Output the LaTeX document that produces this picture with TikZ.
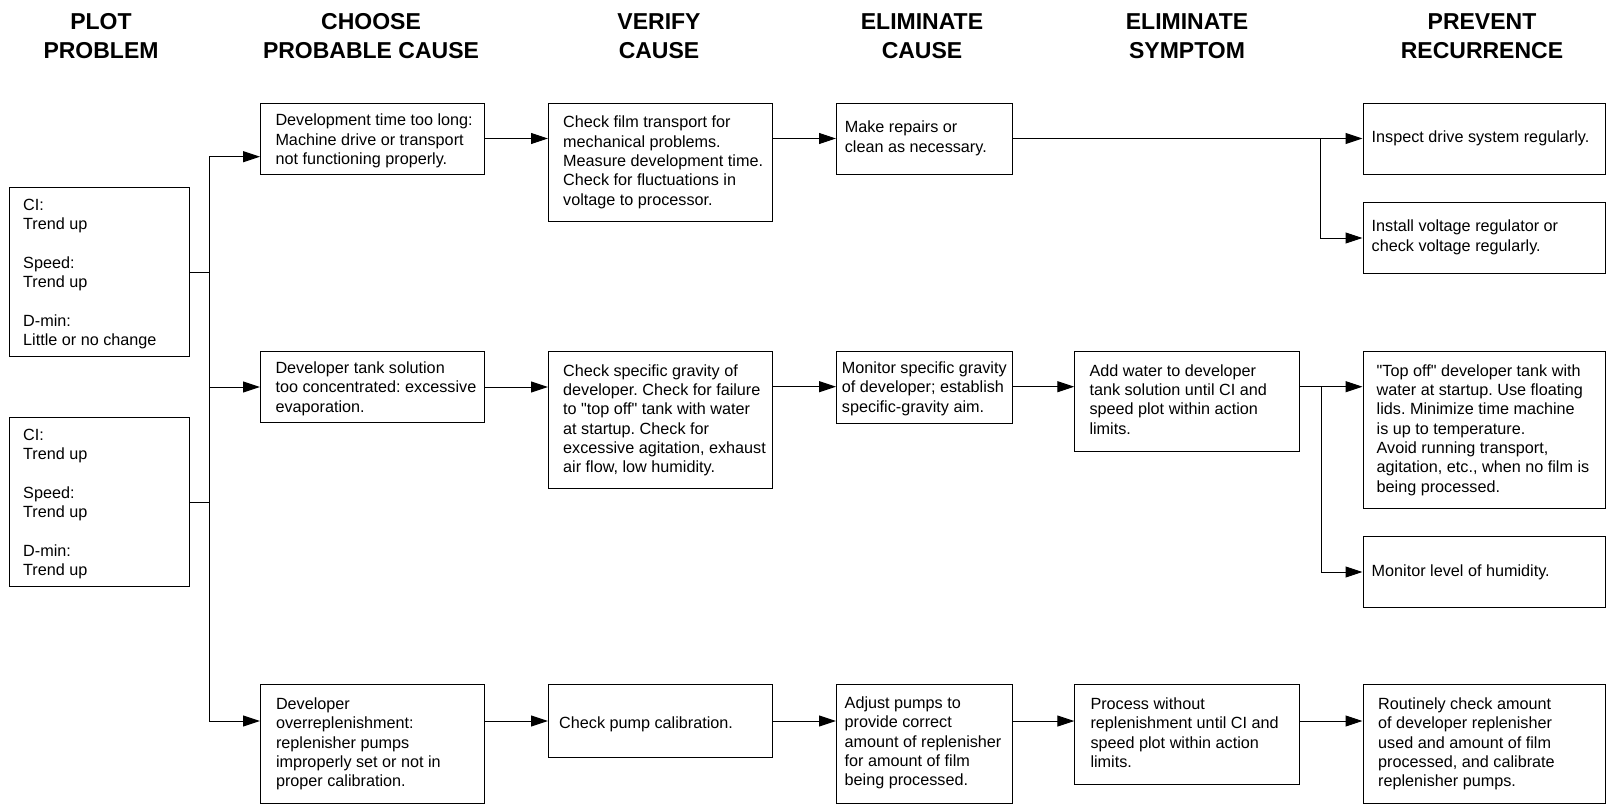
\documentclass[tikz,border=0pt]{standalone}
\usepackage{fontspec}
\setmainfont{Liberation Sans}[Ligatures=TeXOff]
\usetikzlibrary{arrows.meta}
\frenchspacing

% box outline: name, left, top, right, bottom (y grows downward)
\newcommand\flowbox[5]{%
  \node[box, anchor=north west, minimum width={#4-#2}, minimum height={#5-#3}] (#1) at (#2,#3) {};}
% box text: box name, left padding, first baseline offset, text
\newcommand\boxtext[4]{%
  \node[txt] at ([shift={(#2,#3-13.51)}]#1.north west) {\strut #4};}

\begin{document}
\begin{tikzpicture}[x=1pt, y=-1pt,
  box/.style={draw=black, line width=1pt, inner sep=0pt, fill=white},
  txt/.style={anchor=north west, inner sep=0pt, align=left,
    font=\fontsize{16.2}{19.3}\selectfont},
  head/.style={anchor=north, inner sep=0pt, align=center,
    font=\fontsize{23}{28.8}\selectfont\bfseries},
  link/.style={draw=black, line width=1pt},
  arr/.style={link, -{Triangle[length=17pt, width=11pt]}}]

\fill[white] (0,0) rectangle (1608,805);
\useasboundingbox (0,0) rectangle (1608,805);

% column headings
\node[head] (h1) at (101,9.5)  {\strut PLOT\\PROBLEM};
\node[head] (h2) at (371,9.5)  {\strut CHOOSE\\PROBABLE CAUSE};
\node[head] (h3) at (659,9.5)  {\strut VERIFY\\CAUSE};
\node[head] (h4) at (922,9.5)  {\strut ELIMINATE\\CAUSE};
\node[head] (h5) at (1187,9.5) {\strut ELIMINATE\\SYMPTOM};
\node[head] (h6) at (1482,9.5) {\strut PREVENT\\RECURRENCE};

% boxes
\flowbox{ci1}{9.3}{187.3}{189.3}{356}
\flowbox{ci2}{9.3}{417.3}{189.3}{586}
\flowbox{c1}{260}{102.7}{484.3}{174.3}
\flowbox{c2}{260}{350.7}{484.3}{422.3}
\flowbox{c3}{260}{684.3}{484.3}{803.3}
\flowbox{v1}{548}{102.7}{772}{221}
\flowbox{v2}{548}{350.7}{772}{487.7}
\flowbox{v3}{548}{684.3}{772}{756.7}
\flowbox{e1}{836}{102.7}{1012}{174.3}
\flowbox{e2}{836}{350.7}{1012}{422.7}
\flowbox{e3}{836}{684.3}{1012}{803.3}
\flowbox{s2}{1074.3}{350.7}{1299}{450.7}
\flowbox{s3}{1074.3}{684.3}{1299}{784.3}
\flowbox{p1}{1362.5}{102.7}{1605}{174.3}
\flowbox{p2}{1362.5}{201.7}{1605}{273.3}
\flowbox{p3}{1362.5}{350.7}{1605}{508.3}
\flowbox{p4}{1362.5}{535.7}{1605}{607.3}
\flowbox{p5}{1362.5}{684.3}{1605}{803.3}

% box texts
\boxtext{ci1}{13.7}{22.7}{CI:\\Trend up\\[19.3pt]Speed:\\Trend up\\[19.3pt]D-min:\\Little or no change}
\boxtext{ci2}{13.7}{22.7}{CI:\\Trend up\\[19.3pt]Speed:\\Trend up\\[19.3pt]D-min:\\Trend up}
\boxtext{c1}{15.3}{23}{Development time too long:\\Machine drive or transport\\not functioning properly.}
\boxtext{c2}{15.3}{22.7}{Developer tank solution\\too concentrated: excessive\\evaporation.}
\boxtext{c3}{15.8}{25}{Developer\\overreplenishment:\\replenisher pumps\\improperly set or not in\\proper calibration.}
\boxtext{v1}{15}{25}{Check film transport for\\mechanical problems.\\Measure development time.\\Check for fluctuations in\\voltage to processor.}
\boxtext{v2}{15}{25.3}{Check specific gravity of\\developer. Check for failure\\to "top off" tank with water\\at startup. Check for\\excessive agitation, exhaust\\air flow, low humidity.}
\boxtext{v3}{11}{44}{Check pump calibration.}
\boxtext{e1}{8.6}{30}{Make repairs or\\clean as necessary.}
\boxtext{e2}{5.7}{22.7}{Monitor specific gravity\\of developer; establish\\specific-gravity aim.}
\boxtext{e3}{8.5}{24}{Adjust pumps to\\provide correct\\amount of replenisher\\for amount of film\\being processed.}
\boxtext{s2}{15}{25.3}{Add water to developer\\tank solution until CI and\\speed plot within action\\limits.}
\boxtext{s3}{16}{25}{Process without\\replenishment until CI and\\speed plot within action\\limits.}
\boxtext{p1}{9}{39.7}{Inspect drive system regularly.}
\boxtext{p2}{9}{30}{Install voltage regulator or\\check voltage regularly.}
\boxtext{p3}{14}{25.3}{"Top off" developer tank with\\water at startup. Use floating\\lids. Minimize time machine\\is up to temperature.\\Avoid running transport,\\agitation, etc., when no film is\\being processed.}
\boxtext{p4}{9}{40.3}{Monitor level of humidity.}
\boxtext{p5}{15.5}{25}{Routinely check amount\\of developer replenisher\\used and amount of film\\processed, and calibrate\\replenisher pumps.}

% junction points of the connectors
\coordinate (b1) at (209,156.7);
\coordinate (r1) at (0,138.5);
\coordinate (k1) at (1320.5,138.5);
\coordinate (k2) at (1321,386.7);

% problem plots feed the shared bus
\draw[link] (ci1.east) -- (ci1.east -| b1);
\draw[link] (ci2.east) -- (ci2.east -| b1);
\draw[link] (b1) -- (b1 |- v3);
\draw[arr] (b1) -- (b1 -| c1.west);
\draw[arr] (b1 |- c2) -- (c2.west);
\draw[arr] (b1 |- v3) -- (c3.west |- v3);

% row 1
\draw[arr] (c1.east |- r1) -- (v1.west |- r1);
\draw[arr] (v1.east |- r1) -- (e1.west |- r1);
\draw[arr] (e1.east |- r1) -- (p1.west |- r1);
\draw[arr] (k1) |- (p2.west);

% row 2
\draw[arr] (c2.east) -- (v2.west |- c2.east);
\draw[arr] (v2.east |- k2) -- (e2.west |- k2);
\draw[arr] (e2.east |- k2) -- (s2.west |- k2);
\draw[arr] (s2.east |- k2) -- (p3.west |- k2);
\draw[arr] (k2) |- (p4.west);

% row 3
\draw[arr] (c3.east |- v3) -- (v3.west);
\draw[arr] (v3.east) -- (e3.west |- v3);
\draw[arr] (e3.east |- v3) -- (s3.west |- v3);
\draw[arr] (s3.east |- v3) -- (p5.west |- v3);

\end{tikzpicture}
\end{document}
